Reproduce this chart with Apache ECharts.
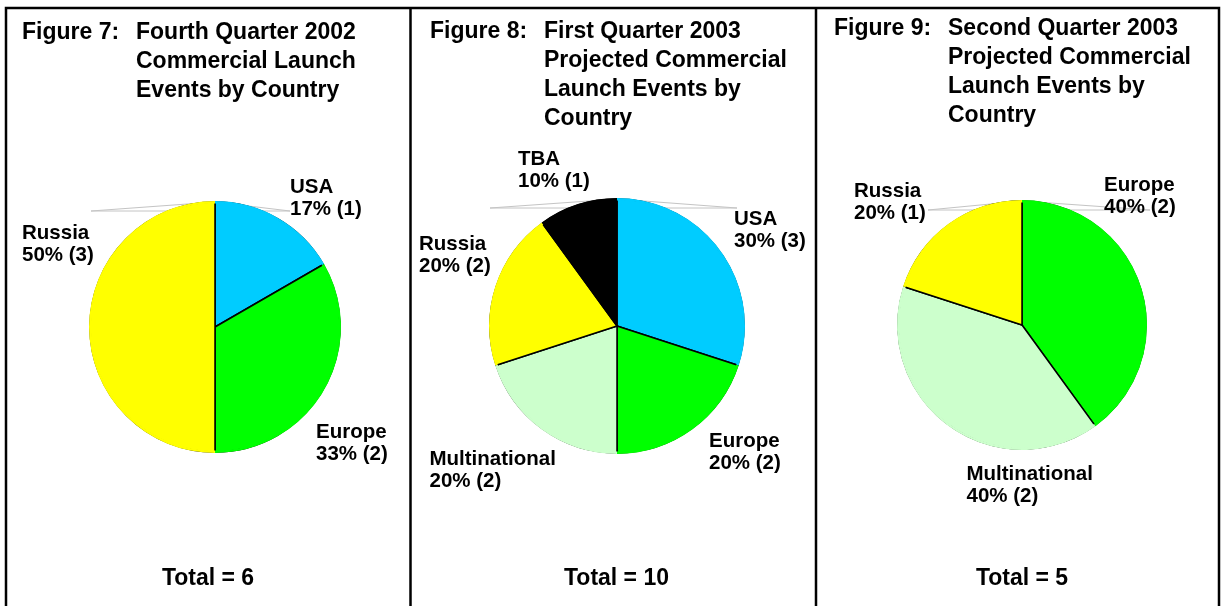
<!DOCTYPE html>
<html><head><meta charset="utf-8">
<script src="https://cdn.jsdelivr.net/npm/echarts@6/dist/echarts.min.js"></script>
<style>html,body{margin:0;padding:0;background:#fff}#c{width:1222px;height:606px}</style>
</head><body><div id="c"></div>
<script>
// ---- data ----
const fig7Names = ['USA', 'Europe', 'Russia'];
const fig7Values = [1, 2, 3];
const fig8Names = ['USA', 'Europe', 'Multinational', 'Russia', 'TBA'];
const fig8Values = [3, 2, 2, 2, 1];
const fig9Names = ['Europe', 'Multinational', 'Russia'];
const fig9Values = [2, 2, 1];
const figLabels = ['Figure 7:', 'Figure 8:', 'Figure 9:'];
const figTitles = [
  'Fourth Quarter 2002\nCommercial Launch\nEvents by Country',
  'First Quarter 2003\nProjected Commercial\nLaunch Events by\nCountry',
  'Second Quarter 2003\nProjected Commercial\nLaunch Events by\nCountry'
];
const totals = ['Total = 6', 'Total = 10', 'Total = 5'];

// ---- styling / layout ----
const colorMap = {USA:'#00CCFF', Europe:'#00FF00', Russia:'#FFFF00', Multinational:'#CCFFCC', TBA:'#000000'};
const FONT = 'Liberation Sans, Arial, sans-serif';
const panels = [
  {names: fig7Names, values: fig7Values, center: [215, 327], r: 125, figX: 22, textX: 136, titleTop: 18,
   labelPos: {USA:[290,176.5], Europe:[316,421], Russia:[22,222.5]}, totalX: 208,
   leaders: {Russia: 91, USA: 290}},
  {names: fig8Names, values: fig8Values, center: [617, 326], r: 127, figX: 430, textX: 544, titleTop: 17,
   labelPos: {USA:[734,208], Europe:[709,430], Multinational:[429.5,448], Russia:[419,233], TBA:[518,148]}, totalX: 616.5,
   leaders: {TBA: 490, USA: 737}},
  {names: fig9Names, values: fig9Values, center: [1022, 325], r: 124, figX: 834, textX: 948, titleTop: 14,
   labelPos: {Europe:[1104,174], Multinational:[966.5,463], Russia:[854,180.5]}, totalX: 1022,
   leaders: {Russia: 928, Europe: 1150}}
];

const titles = [];
const series = [];
panels.forEach((p, i) => {
  const ts = {color:'#000', fontFamily: FONT, fontWeight:'bold', fontSize: 23, lineHeight: 29};
  titles.push({text: figLabels[i], left: p.figX, top: p.titleTop, padding: 0, textStyle: ts});
  titles.push({text: figTitles[i], left: p.textX, top: p.titleTop, padding: 0, textStyle: ts});
  titles.push({text: totals[i], left: p.totalX, top: 566, padding: 0, textAlign: 'center',
    textStyle: {color:'#000', fontFamily: FONT, fontWeight:'bold', fontSize: 23, lineHeight: 26}});
  const data = p.names.map((n, k) => ({
    name: n, value: p.values[k], itemStyle: {color: colorMap[n]},
    labelLine: {show: p.leaders[n] !== undefined}
  }));
  series.push({
    type: 'pie', center: p.center, radius: p.r, startAngle: 90, clockwise: true,
    percentPrecision: 0, animation: false, silent: true, z: 2,
    itemStyle: {borderColor: '#000', borderWidth: 1.5},
    label: {show: true, position: 'outside', overflow: 'none', alignTo: 'none', formatter: '{b}\n{d}% ({c})', color: '#000',
      fontFamily: FONT, fontWeight: 'bold', fontSize: 20.5, lineHeight: 22},
    labelLine: {show: false, lineStyle: {color: '#c4c4c4', width: 1}},
    labelLayout: (params) => {
      const n = p.names[params.dataIndex];
      const pos = p.labelPos[n];
      const out = {x: pos[0], y: pos[1], align: 'left', verticalAlign: 'top', moveOverlap: null};
      if (p.leaders[n] !== undefined) {
        const cx = p.center[0], topY = p.center[1] - p.r;
        out.labelLinePoints = [[cx, topY], [p.leaders[n], topY + 9], [cx, topY + 9]];
      }
      return out;
    },
    data: data
  });
  // ring to hide the black outline on the outer arc
  series.push({
    type: 'pie', center: p.center, radius: [p.r - 1.5, p.r + 1], startAngle: 90, clockwise: true,
    animation: false, silent: true, label: {show: false}, labelLine: {show: false},
    itemStyle: {borderWidth: 0}, z: 3,
    data: data.map(d => ({name: d.name, value: d.value, itemStyle: {color: d.itemStyle.color}}))
  });
});

const chart = echarts.init(document.getElementById('c'), null, {renderer: 'canvas'});
chart.setOption({
  backgroundColor: '#fff',
  animation: false,
  title: titles,
  series: series,
  graphic: [
    {type:'rect', shape:{x:6, y:8, width:1213, height:610}, style:{fill:'none', stroke:'#000', lineWidth:2.5}, silent:true, z:10},
    {type:'line', shape:{x1:410.5, y1:8, x2:410.5, y2:606}, style:{stroke:'#000', lineWidth:2.5}, silent:true, z:10},
    {type:'line', shape:{x1:816, y1:8, x2:816, y2:606}, style:{stroke:'#000', lineWidth:2.5}, silent:true, z:10}
  ]
});
</script></body></html>
